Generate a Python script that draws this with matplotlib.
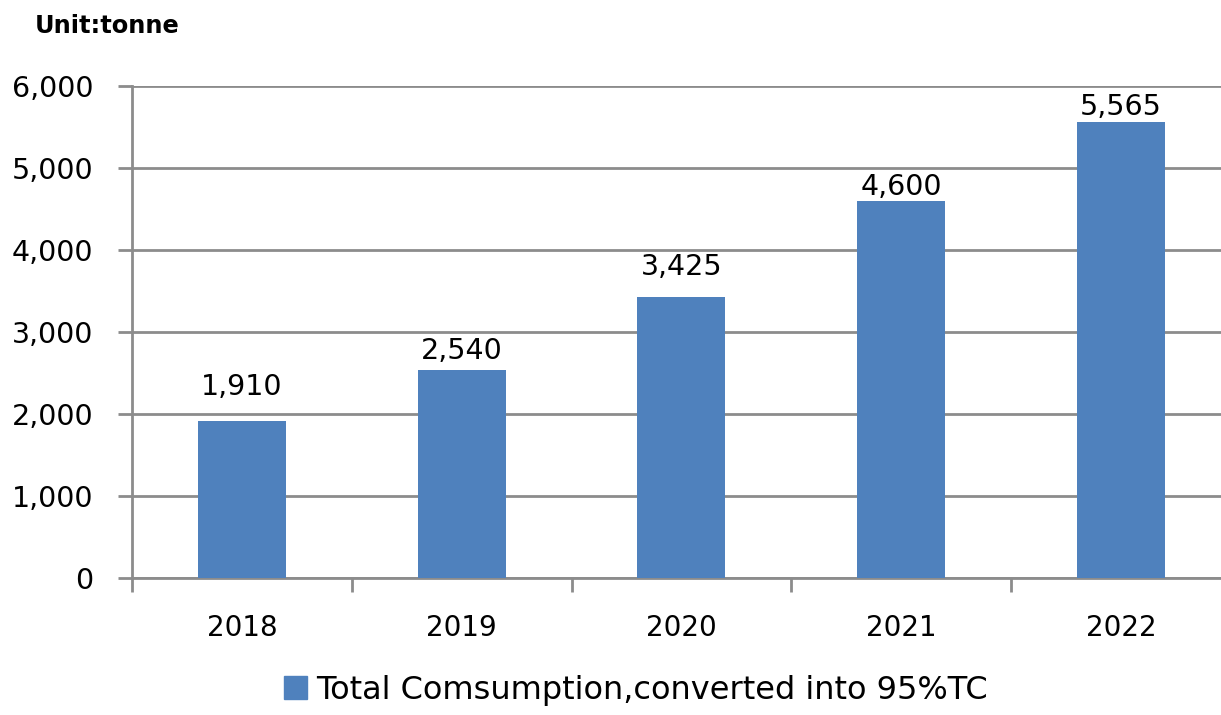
import matplotlib.pyplot as plt
from matplotlib.ticker import FuncFormatter
from matplotlib.patches import Patch

years = ["2018", "2019", "2020", "2021", "2022"]
consumption = [1910, 2540, 3425, 4600, 5565]
y_ticks = [0, 1000, 2000, 3000, 4000, 5000, 6000]

# gap (points) between bar top and its value label, as placed in the original
label_gap_pt = [18.7, 7.9, 15.8, 4.3, 5.0]

bar_color = "#4F81BD"
grid_color = "#8C8C8C"

fig = plt.figure(figsize=(12.21, 7.15), dpi=100)
ax = fig.add_axes([132 / 1221, 137 / 715, (1221 - 132) / 1221, 492 / 715])

x = list(range(len(years)))
ax.bar(x, consumption, width=0.4, color=bar_color, zorder=3)

# value labels above bars
for xi, v, gap in zip(x, consumption, label_gap_pt):
    ax.annotate(f"{v:,}", (xi, v), xytext=(0, gap), textcoords="offset points",
                ha="center", va="baseline", fontsize=20.5, color="#000000")

ax.set_yticks(y_ticks)
ax.yaxis.set_major_formatter(FuncFormatter(lambda v, p: f"{int(v):,}"))
ax.yaxis.grid(True, color=grid_color, linewidth=2, zorder=0)

# category labels centered, tick marks between categories
ax.set_xticks([i - 0.5 for i in range(len(years) + 1)])
ax.set_xticklabels([])
ax.set_xticks(x, minor=True)
ax.set_xticklabels(years, minor=True, fontsize=20)
ax.tick_params(axis="x", which="minor", length=0, pad=26)
ax.tick_params(axis="x", which="major", length=10, width=2, color=grid_color)
ax.tick_params(axis="y", length=10, width=2, color=grid_color, labelsize=20.5, pad=18)

ax.set_ylim(0, 6000)
ax.set_xlim(-0.5, 4.455)

for side in ["top", "right"]:
    ax.spines[side].set_visible(False)
for side in ["left", "bottom"]:
    ax.spines[side].set_color(grid_color)
    ax.spines[side].set_linewidth(2)

fig.text(35 / 1221, 1 - 26 / 715, "Unit:tonne", fontsize=17.4, fontweight="bold",
         ha="left", va="center")

handle = Patch(color=bar_color, label="Total Comsumption,converted into 95%TC")
fig.legend(handles=[handle], loc="center", bbox_to_anchor=(0.521, 1 - 690 / 715),
           frameon=False, fontsize=23, handlelength=0.7, handleheight=0.7,
           handletextpad=0.3)

fig.savefig("out.png", dpi=100)
